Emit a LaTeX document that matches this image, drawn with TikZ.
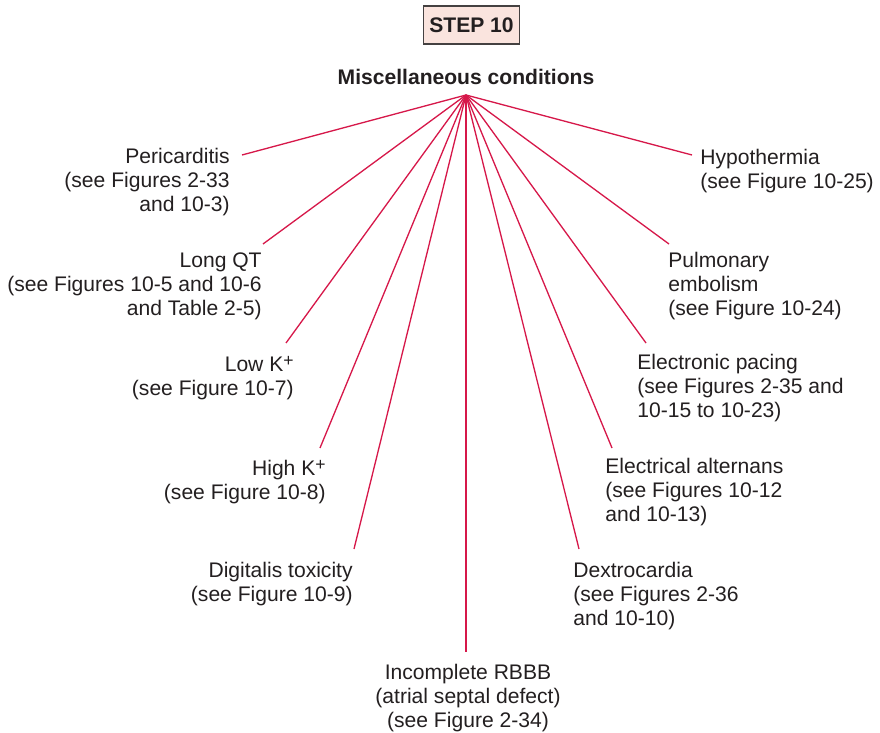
\documentclass[tikz,border=0pt]{standalone}
\usepackage{fontspec}
\setmainfont{Liberation Sans}
\usetikzlibrary{positioning}
\definecolor{crimson}{RGB}{214,24,74}
\definecolor{ink}{RGB}{35,31,32}
\definecolor{blush}{RGB}{250,228,222}
\newcommand{\kplus}{K\raisebox{0.45ex}{\fontsize{10}{12}\selectfont+}}
\tikzset{
  spoke/.style={draw=crimson,line width=0.75pt},
  cond/.style={inner sep=0pt,text=ink,font=\fontsize{12}{13.65}\selectfont},
  leftcond/.style={cond,align=right,anchor=north east},
  rightcond/.style={cond,align=left,anchor=north west},
  stepbox/.style={draw=ink!85,fill=blush,line width=0.6pt,text=ink,
    font=\fontsize{12}{13.65}\selectfont\bfseries,minimum width=1.82cm,minimum height=0.76cm},
}

\begin{document}
\begin{tikzpicture}[x=0.02cm,y=-0.02cm]
  \useasboundingbox (0,0) rectangle (880,733);
  \node[stepbox] (step) at (471.5,25) {STEP 10};
  \node[cond,anchor=north,font=\fontsize{12}{13.65}\selectfont\bfseries] (misc) at (466,69) {Miscellaneous conditions};
  \coordinate (hub) at (466,95);
  % left side
  \foreach \n/\ex/\ey/\tx/\ty/\t in {peri/242/155/230/148/{Pericarditis\\(see Figures 2-33\\and 10-3)},
      longqt/263/244/262/252/{Long QT\\(see Figures 10-5 and 10-6\\and Table 2-5)},
      lowk/286/343/294/356/{Low \kplus\\(see Figure 10-7)},
      highk/320/448/326/460/{High \kplus\\(see Figure 10-8)},
      digi/354/549/353/562/{Digitalis toxicity\\(see Figure 10-9)}}{
    \node[leftcond] (\n) at (\tx,\ty) {\t};
    \coordinate (\n-end) at (\ex,\ey);
    \draw[spoke] (hub) -- (\n-end);
  }
  % right side
  \foreach \n/\ex/\ey/\tx/\ty/\t in {hypo/692/155/700/149/{Hypothermia\\(see Figure 10-25)},
      pulm/669/244/668/252/{Pulmonary\\embolism\\(see Figure 10-24)},
      pace/646/343/637/354/{Electronic pacing\\(see Figures 2-35 and\\10-15 to 10-23)},
      alt/612/448/605/458/{Electrical alternans\\(see Figures 10-12\\and 10-13)},
      dextro/579/549/573/562/{Dextrocardia\\(see Figures 2-36\\and 10-10)}}{
    \node[rightcond] (\n) at (\tx,\ty) {\t};
    \coordinate (\n-end) at (\ex,\ey);
    \draw[spoke] (hub) -- (\n-end);
  }
  % bottom
  \node[cond,align=center,anchor=north] (rbbb) at (468,664) {Incomplete RBBB\\(atrial septal defect)\\(see Figure 2-34)};
  \coordinate (rbbb-end) at (466,652);
  \draw[spoke] (hub) -- (rbbb-end);
\end{tikzpicture}
\end{document}
